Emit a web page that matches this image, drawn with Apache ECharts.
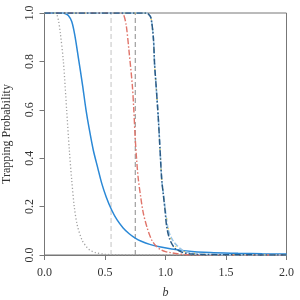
<!DOCTYPE html>
<html><head><meta charset="utf-8">
<script src="https://cdn.jsdelivr.net/npm/echarts@6/dist/echarts.min.js"></script>
<style>html,body{margin:0;padding:0;background:#fff}#c{width:300px;height:300px}</style>
</head><body><div id="c"></div>
<script>
const xTicks = [0, 0.5, 1.0, 1.5, 2.0];
const yTicks = [0, 0.2, 0.4, 0.6, 0.8, 1.0];
const thresholds = [0.55, 0.75];

const bGray = [0, 0.08, 0.1, 0.115, 0.13, 0.156, 0.183, 0.205, 0.225, 0.246, 0.27, 0.31, 0.35, 0.376, 0.42, 0.5, 0.6, 2.0];
const pGray = [1, 1, 0.995, 0.97, 0.92, 0.8, 0.6, 0.434, 0.31, 0.2, 0.125, 0.062, 0.032, 0.02, 0.01, 0.003, 0.001, 0];

const bBlue = [0, 0.15, 0.17, 0.197, 0.225, 0.25, 0.28, 0.315, 0.343, 0.37, 0.403, 0.44, 0.473, 0.51, 0.555, 0.6, 0.65, 0.7, 0.75, 0.8, 0.87, 0.95, 1.05, 1.15, 1.37, 1.6, 1.8, 2.0];
const pBlue = [1, 1, 0.998, 0.99, 0.965, 0.91, 0.815, 0.7, 0.6, 0.52, 0.434, 0.36, 0.296, 0.24, 0.186, 0.145, 0.112, 0.088, 0.07, 0.057, 0.044, 0.034, 0.025, 0.018, 0.01, 0.007, 0.005, 0.004];

const bRed = [0, 0.63, 0.652, 0.675, 0.7, 0.726, 0.738, 0.75, 0.762, 0.775, 0.795, 0.817, 0.85, 0.886, 0.92, 0.955, 1.0, 1.04, 1.1, 1.2, 2.0];
const pRed = [1, 1, 0.995, 0.95, 0.835, 0.7, 0.6, 0.48, 0.39, 0.315, 0.24, 0.172, 0.11, 0.062, 0.038, 0.024, 0.014, 0.01, 0.005, 0.001, 0];

const bNavy = [0, 0.84, 0.86, 0.88, 0.9, 0.91, 0.919, 0.94, 0.955, 0.969, 0.982, 0.996, 1.01, 1.037, 1.078, 1.134, 1.2, 1.3, 2.0];
const pNavy = [1, 1, 0.995, 0.98, 0.895, 0.785, 0.723, 0.57, 0.434, 0.31, 0.25, 0.186, 0.117, 0.062, 0.028, 0.012, 0.005, 0.002, 0];

const bLight = [0, 0.84, 0.86, 0.88, 0.9, 0.91, 0.919, 0.94, 0.955, 0.969, 0.982, 0.996, 1.023, 1.05, 1.078, 1.147, 1.25, 1.4, 2.0];
const pLight = [1, 1, 0.995, 0.98, 0.895, 0.785, 0.723, 0.57, 0.434, 0.31, 0.255, 0.195, 0.103, 0.07, 0.048, 0.018, 0.005, 0.001, 0];

const bYellow = [0, 0.84, 0.86, 0.88, 0.9, 0.91, 0.919, 0.94, 0.955, 0.969, 0.982, 0.996, 1.01, 1.04, 1.078, 1.14, 1.26, 1.4, 2.0];
const pYellow = [1, 1, 0.995, 0.98, 0.895, 0.785, 0.723, 0.57, 0.434, 0.31, 0.252, 0.19, 0.15, 0.068, 0.038, 0.016, 0.006, 0.001, 0];

function pairs(b, p) { return b.map((x, i) => [x, p[i]]); }
const font = 'Liberation Serif';

const chart = echarts.init(document.getElementById('c'), null, {renderer: 'canvas'});
const series = [];
thresholds.forEach((t, i) => {
  series.push({
    type: 'line', data: [[t, 0], [t, 1]], symbol: 'none', silent: true,
    lineStyle: {color: i === 0 ? '#c4c4c4' : '#8a8a8a', width: 1, type: [5, 3]}
  });
});
series.push({type: 'line', data: pairs(bGray, pGray), symbol: 'none', smooth: 0.3,
  lineStyle: {color: '#a0a0a0', width: 1.3, type: [1.2, 2.2]}});
series.push({type: 'line', data: pairs(bBlue, pBlue), symbol: 'none', smooth: 0.3,
  lineStyle: {color: '#2a88d6', width: 1.5, type: 'solid'}});
series.push({type: 'line', data: pairs(bRed, pRed), symbol: 'none', smooth: 0.3,
  lineStyle: {color: '#e0746a', width: 1.4, type: [6, 2, 1.5, 2]}});
series.push({type: 'line', data: pairs(bLight, pLight), symbol: 'none', smooth: 0.3,
  lineStyle: {color: '#9cc6e6', width: 1.6, type: [5, 2]}});
series.push({type: 'line', data: pairs(bYellow, pYellow), symbol: 'none', smooth: 0.3,
  lineStyle: {color: '#f2c21a', width: 1.1, type: [1, 9]}});
series.push({type: 'line', data: pairs(bNavy, pNavy), symbol: 'none', smooth: 0.3,
  lineStyle: {color: '#2a5a85', width: 1.5, type: [6, 2, 1.5, 2]}});

chart.setOption({
  animation: false,
  backgroundColor: '#fff',
  grid: {left: 44.5, right: 13.5, top: 13, bottom: 45, show: true, borderColor: '#777', borderWidth: 1, containLabel: false, outerBoundsMode: 'none'},
  xAxis: {
    type: 'value', min: xTicks[0], max: xTicks[xTicks.length - 1], interval: 0.5,
    name: 'b', nameLocation: 'middle', nameGap: 32,
    nameTextStyle: {fontFamily: font, fontStyle: 'italic', fontSize: 12, color: '#333'},
    axisLine: {show: true, lineStyle: {color: '#777', width: 1}},
    axisTick: {show: true, length: 5, lineStyle: {color: '#777'}},
    axisLabel: {fontFamily: font, fontSize: 12, color: '#333', margin: 12, formatter: v => v.toFixed(1)},
    splitLine: {show: false}
  },
  yAxis: {
    type: 'value', min: yTicks[0], max: yTicks[yTicks.length - 1], interval: 0.2,
    name: 'Trapping Probability', nameLocation: 'middle', nameGap: 32, nameRotate: 90,
    nameTextStyle: {fontFamily: font, fontSize: 12, color: '#333'},
    axisLine: {show: true, lineStyle: {color: '#777', width: 1}},
    axisTick: {show: true, length: 5, lineStyle: {color: '#777'}},
    axisLabel: {fontFamily: font, fontSize: 12, color: '#333', rotate: 90, margin: 9, formatter: v => v.toFixed(1)},
    splitLine: {show: false}
  },
  series: series
});
</script></body></html>
